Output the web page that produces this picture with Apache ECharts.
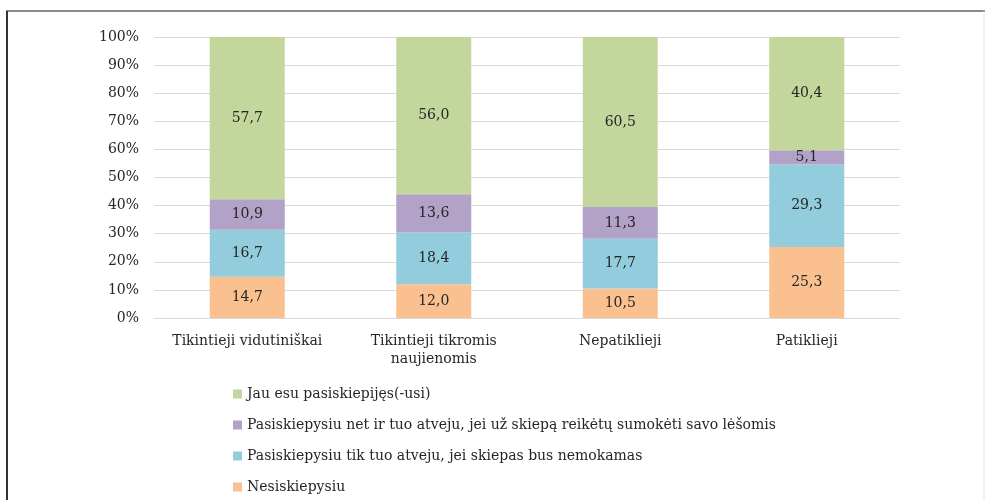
<!DOCTYPE html>
<html>
<head>
<meta charset="utf-8">
<script src="https://cdn.jsdelivr.net/npm/echarts@6/dist/echarts.min.js"></script>
<style>
  html, body { margin: 0; padding: 0; background: #fff; }
  #chart { width: 985px; height: 500px; }
</style>
</head>
<body>
<div id="chart"></div>
<script>
var categories = ['Tikintieji vidutiniškai', 'Tikintieji tikromis\nnaujienomis', 'Nepatiklieji', 'Patiklieji'];
var seriesNames = [
    'Nesiskiepysiu',
    'Pasiskiepysiu tik tuo atveju, jei skiepas bus nemokamas',
    'Pasiskiepysiu net ir tuo atveju, jei už skiepą reikėtų sumokėti savo lėšomis',
    'Jau esu pasiskiepijęs(-usi)'
];
var nesiskiepysiu = [14.7, 12.0, 10.5, 25.3];
var nemokamas = [16.7, 18.4, 17.7, 29.3];
var savoLesomis = [10.9, 13.6, 11.3, 5.1];
var pasiskiepijes = [57.7, 56.0, 60.5, 40.4];
var yTicks = [0, 10, 20, 30, 40, 50, 60, 70, 80, 90, 100];

var colors = ['#FAC090', '#93CDDD', '#B2A2C7', '#C3D69B'];
var font = 'DejaVu Serif';

var chart = echarts.init(document.getElementById('chart'));

function makeSeries(i, data) {
    return {
        name: seriesNames[i],
        type: 'bar',
        stack: 'total',
        barWidth: 75,
        data: data,
        itemStyle: { color: colors[i] },
        label: {
            show: true,
            position: 'inside',
            color: '#262626',
            fontFamily: font,
            fontSize: 14,
            formatter: function (p) {
                return p.value.toFixed(1).replace('.', ',');
            }
        },
        emphasis: { disabled: true }
    };
}

var option = {
    animation: false,
    textStyle: { fontFamily: font },
    grid: { left: 154, right: 85, top: 37, bottom: 182 },
    graphic: [
        { type: 'line', shape: { x1: 6, y1: 11, x2: 985, y2: 11 }, style: { stroke: '#8a8a8a', lineWidth: 2 } },
        { type: 'line', shape: { x1: 7, y1: 11, x2: 7, y2: 500 }, style: { stroke: '#333333', lineWidth: 2 } },
        { type: 'line', shape: { x1: 984, y1: 11, x2: 984, y2: 500 }, style: { stroke: '#e3e3e3', lineWidth: 1 } }
    ],
    legend: {
        orient: 'vertical',
        left: 228,
        top: 381,
        height: 118,
        itemWidth: 9,
        itemHeight: 9,
        itemGap: 15,
        icon: 'rect',
        data: seriesNames.slice().reverse(),
        textStyle: { fontFamily: font, fontSize: 14, color: '#262626', lineHeight: 16 }
    },
    xAxis: {
        type: 'category',
        data: categories,
        axisLine: { lineStyle: { color: '#d9d9d9', width: 1 } },
        axisTick: { show: false },
        axisLabel: {
            color: '#262626',
            fontFamily: font,
            fontSize: 14,
            lineHeight: 18,
            margin: 14,
            interval: 0
        }
    },
    yAxis: {
        type: 'value',
        min: yTicks[0],
        max: yTicks[yTicks.length - 1],
        interval: 10,
        axisLine: { show: false },
        axisTick: { show: false },
        splitLine: { lineStyle: { color: '#d9d9d9', width: 1 } },
        axisLabel: {
            color: '#262626',
            fontFamily: font,
            fontSize: 14,
            margin: 15,
            formatter: '{value}%'
        }
    },
    series: [
        makeSeries(0, nesiskiepysiu),
        makeSeries(1, nemokamas),
        makeSeries(2, savoLesomis),
        makeSeries(3, pasiskiepijes)
    ]
};

chart.setOption(option);
</script>
</body>
</html>
